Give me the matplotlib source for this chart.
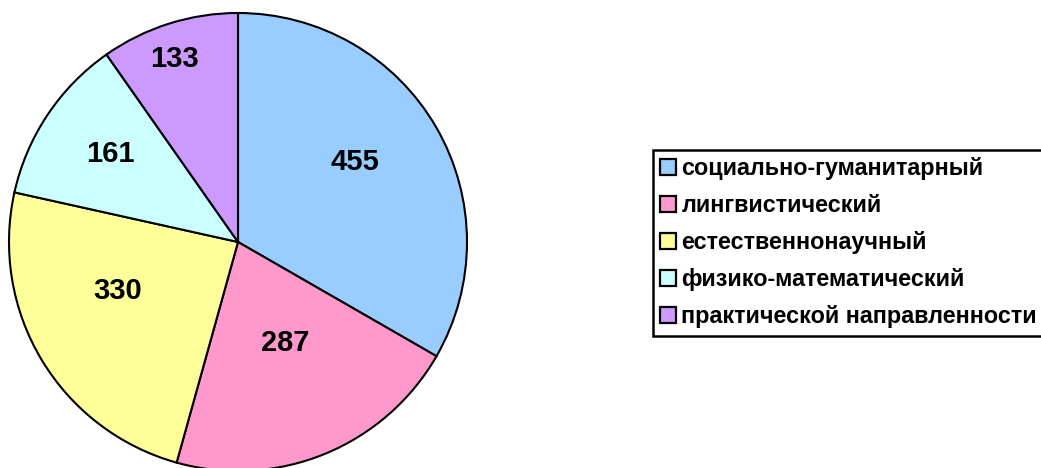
import numpy as np
import matplotlib.pyplot as plt
from matplotlib.patches import Patch

plt.rcParams['font.family'] = ['Liberation Sans', 'DejaVu Sans']

categories = ['социально-гуманитарный', 'лингвистический', 'естественнонаучный',
              'физико-математический', 'практической направленности']
values = [455, 287, 330, 161, 133]
colors = ['#99CCFF', '#FF99CC', '#FFFF99', '#CCFFFF', '#CC99FF']
# where each number sits: fraction of radius and nudge from mid-angle (deg)
label_r = [0.62, 0.487, 0.566, 0.678, 0.845]
label_dang = [4.3, 2.7, -8.8, -0.8, 1.5]

fig = plt.figure(figsize=(10.41, 4.68), dpi=100)
ax = fig.add_axes([9 / 1041, -3 / 468, 458 / 1041, 458 / 468])

wedges, _ = ax.pie(values, colors=colors, startangle=90, counterclock=False,
                   wedgeprops=dict(edgecolor='black', linewidth=1.5))
ax.set_xlim(-1, 1)
ax.set_ylim(-1, 1)
ax.set_aspect('equal')

for w, v, r, da in zip(wedges, values, label_r, label_dang):
    ang = np.deg2rad((w.theta1 + w.theta2) / 2 + da)
    ax.text(r * np.cos(ang), r * np.sin(ang), str(v), ha='center', va='center',
            fontsize=21, fontweight='bold')

handles = [Patch(facecolor=c, edgecolor='black', linewidth=1.6) for c in colors]
leg = fig.legend(handles, categories, loc='upper left',
                 bbox_to_anchor=(653 / 1041, 1 - 150 / 468),
                 bbox_transform=fig.transFigure, borderaxespad=0,
                 prop=dict(size=16.8, weight='bold'), fancybox=False,
                 handlelength=0.68, handleheight=0.68, handletextpad=0.22,
                 labelspacing=0.6, borderpad=0.32, framealpha=1)
leg.get_frame().set_edgecolor('black')
leg.get_frame().set_linewidth(1.8)

fig.savefig('out.png', dpi=100)
